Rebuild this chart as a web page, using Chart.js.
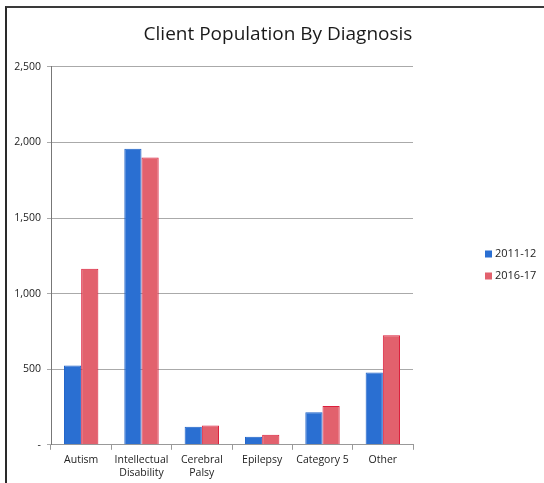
<!DOCTYPE html>
<html>
<head>
<meta charset="utf-8">
<script src="https://cdn.jsdelivr.net/npm/chart.js@4"></script>
<style>
  html, body { margin: 0; padding: 0; background: #fff; }
  #wrap { position: relative; width: 544px; height: 483px; }
  #frame { position: absolute; left: 5px; top: 6px; right: 0; bottom: 0;
           border-left: 2px solid #2a2a2a; border-top: 2px solid #3a3a3a; pointer-events: none; }
  canvas { position: absolute; left: 0; top: 0; }
</style>
</head>
<body>
<div id="wrap">
  <canvas id="chart" width="544" height="483"></canvas>
  <div id="frame"></div>
</div>
<script>
const categories = ['Autism', ['Intellectual', 'Disability'], ['Cerebral', 'Palsy'], 'Epilepsy', 'Category 5', 'Other'];
const seriesNames = ['2011-12', '2016-17'];
const values2011 = [524, 1958, 119, 53, 216, 478];
const values2016 = [1164, 1900, 128, 66, 256, 725];
const yTicks = [0, 500, 1000, 1500, 2000, 2500];

const fontFam = "'Open Sans', 'Noto Sans', sans-serif";

// legend drawn by hand so it can sit away from the plot, like the original
const sideLegend = {
  id: 'sideLegend',
  afterDraw(chart) {
    const c = chart.ctx;
    const x = chart.chartArea.right + 72;
    const y0 = 254;
    c.save();
    c.font = '11px ' + fontFam;
    c.textBaseline = 'middle';
    chart.data.datasets.forEach((ds, i) => {
      const y = y0 + i * 22;
      c.fillStyle = ds.backgroundColor;
      c.fillRect(x, y - 3.5, 7, 7);
      c.fillStyle = '#222';
      c.fillText(ds.label, x + 10, y);
    });
    c.restore();
  }
};

const ctx = document.getElementById('chart').getContext('2d');
new Chart(ctx, {
  type: 'bar',
  data: {
    labels: categories,
    datasets: [{
      label: seriesNames[0],
      data: values2011,
      backgroundColor: '#2a6fd2',
      borderColor: '#1d62c8',
      borderWidth: 1
    }, {
      label: seriesNames[1],
      data: values2016,
      backgroundColor: '#e2616d',
      borderColor: '#dc1f3c',
      borderWidth: 1
    }]
  },
  options: {
    responsive: false,
    animation: false,
    layout: { padding: { left: 12, right: 0, top: 0, bottom: 0 } },
    datasets: { bar: { categoryPercentage: 0.57, barPercentage: 1 } },
    plugins: {
      title: {
        display: true,
        text: 'Client Population By Diagnosis',
        color: '#1a1a1a',
        font: { family: fontFam, size: 19, weight: 'normal' },
        padding: { top: 23, bottom: 21 }
      },
      legend: { display: false },
      tooltip: { enabled: false }
    },
    scales: {
      x: {
        grid: { drawOnChartArea: false, drawTicks: true, tickLength: 5, color: '#999', offset: true },
        border: { color: '#999' },
        ticks: { color: '#222', font: { family: fontFam, size: 10.5 }, padding: 4, maxRotation: 0 }
      },
      y: {
        min: 0, max: 2500,
        afterFit: s => { s.width = 39; },
        afterBuildTicks: s => { s.ticks = yTicks.map(v => ({ value: v })); },
        grid: { color: '#aaa', tickLength: 4 },
        border: { color: '#777' },
        ticks: {
          color: '#222', padding: 6,
          font: { family: fontFam, size: 10.5 },
          callback: v => v === 0 ? '-' : v.toLocaleString('en-US')
        }
      },
      // empty right axis that reserves the space where the legend sits
      spare: {
        position: 'right',
        display: true,
        afterFit: s => { s.width = 131; },
        grid: { display: false },
        border: { display: false },
        ticks: { display: false }
      }
    }
  },
  plugins: [sideLegend]
});
</script>
</body>
</html>
